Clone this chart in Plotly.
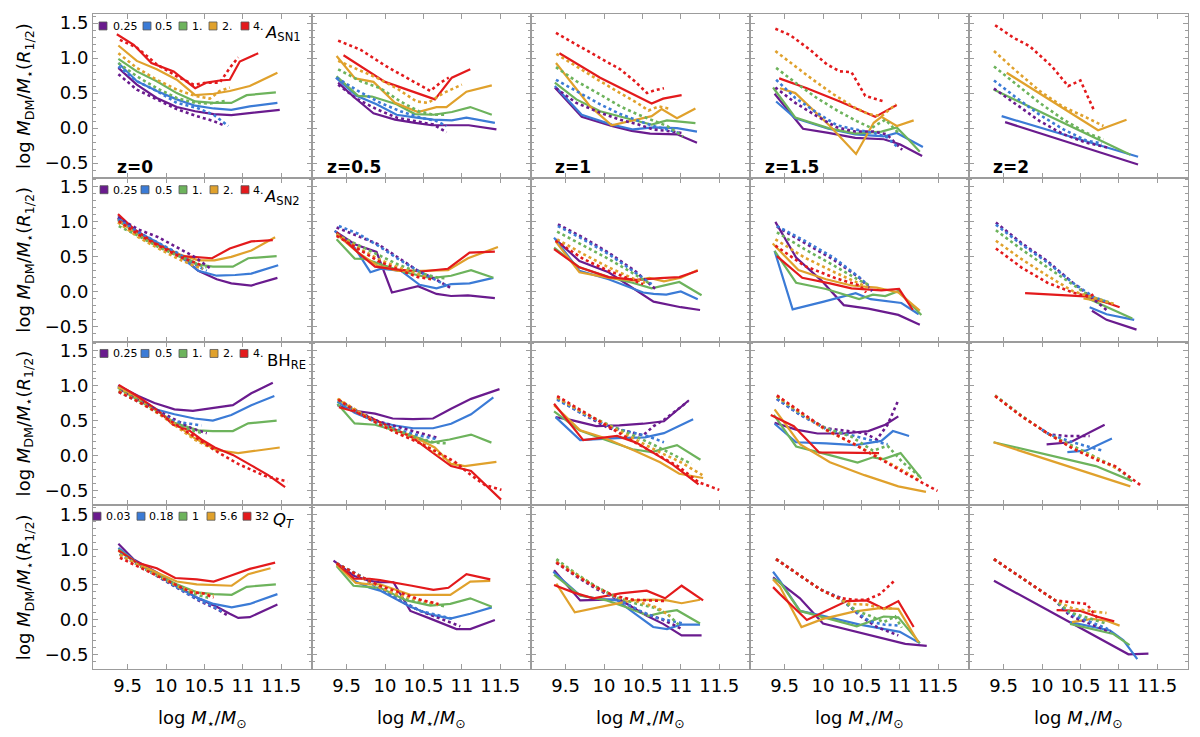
import plotly.graph_objects as go
from plotly.subplots import make_subplots

# ---------------- styling constants ----------------
COLORS = ["#6A1B8E", "#3B7BD6", "#6DB35C", "#E0A12C", "#E31A1C"]
REDSHIFTS = ["z=0", "z=0.5", "z=1", "z=1.5", "z=2"]
ROW_TAGS = ["<i>A</i><sub>SN1</sub>", "<i>A</i><sub>SN2</sub>", "BH<sub>RE</sub>", "<i>Q<sub>T</sub></i>"]
LEGEND_LABELS = [
    ["0.25", "0.5", "1.", "2.", "4."],
    ["0.25", "0.5", "1.", "2.", "4."],
    ["0.25", "0.5", "1.", "2.", "4."],
    ["0.03", "0.18", "1", "5.6", "32"],
]
X_TICKS = [9.5, 10, 10.5, 11, 11.5]

# ---------------- data: (log M*, log MDM/M*) per series, order purple, blue, green, orange, red ----
# Row 1: A_SN1
ASN1_Z0_SOLID = [
    [(9.38,0.86),(9.62,0.62),(9.88,0.43),(10.14,0.30),(10.38,0.24),(10.62,0.20),(10.85,0.185),(11.09,0.21),(11.48,0.26)],
    [(9.38,0.93),(9.62,0.67),(9.88,0.53),(10.14,0.41),(10.38,0.32),(10.62,0.28),(10.85,0.26),(11.09,0.31),(11.45,0.36)],
    [(9.38,0.99),(9.62,0.81),(9.88,0.67),(10.14,0.50),(10.38,0.38),(10.62,0.36),(10.85,0.36),(11.05,0.47),(11.43,0.51)],
    [(9.38,1.18),(9.62,0.96),(9.88,0.84),(10.14,0.69),(10.38,0.47),(10.62,0.49),(10.83,0.53),(11.09,0.60),(11.45,0.79)],
    [(9.36,1.34),(9.58,1.19),(9.81,0.93),(10.10,0.81),(10.18,0.74),(10.38,0.57),(10.53,0.65),(10.70,0.68),(10.83,0.69),(10.96,0.95),(11.20,1.07)],
]
ASN1_Z0_DOT = [
    [(9.38,0.77),(9.62,0.55),(9.88,0.41),(10.14,0.27),(10.40,0.17),(10.62,0.10),(10.75,0.04)],
    [(9.38,0.88),(9.62,0.67),(9.88,0.53),(10.14,0.36),(10.40,0.29),(10.62,0.19),(10.81,0.03)],
    [(9.38,0.93),(9.62,0.74),(9.88,0.57),(10.14,0.43),(10.38,0.36),(10.57,0.35),(10.79,0.39)],
    [(9.38,1.07),(9.62,0.86),(9.88,0.69),(10.14,0.55),(10.38,0.46),(10.57,0.42),(10.70,0.53),(10.83,0.58)],
    [(9.40,1.26),(9.62,1.15),(9.88,0.91),(10.14,0.74),(10.36,0.62),(10.53,0.65),(10.70,0.65),(10.83,0.86),(10.94,1.01)],
]
ASN1_Z05_SOLID = [
    [(9.39,0.65),(9.61,0.43),(9.85,0.21),(10.13,0.12),(10.39,0.075),(10.61,0.04),(10.87,0.04),(11.09,0.04),(11.45,-0.02)],
    [(9.36,0.72),(9.63,0.46),(9.89,0.34),(10.15,0.19),(10.41,0.15),(10.63,0.12),(10.87,0.11),(11.06,0.15),(11.43,0.075)],
    [(9.37,0.74),(9.65,0.46),(9.83,0.45),(10.15,0.34),(10.39,0.20),(10.63,0.19),(10.87,0.23),(11.11,0.30),(11.39,0.19)],
    [(9.37,1.03),(9.61,0.71),(9.85,0.66),(10.13,0.36),(10.43,0.23),(10.67,0.30),(10.80,0.30),(11.06,0.52),(11.39,0.61)],
    [(9.46,1.04),(10.0,0.66),(10.65,0.41),(10.87,0.72),(11.11,0.84)],
]
ASN1_Z05_DOT = [
    [(9.39,0.62),(9.63,0.42),(9.89,0.27),(10.15,0.15),(10.39,0.10),(10.63,0.05),(10.80,-0.06)],
    [(9.37,0.72),(9.65,0.53),(9.94,0.36),(10.20,0.24),(10.46,0.15),(10.67,0.10),(10.80,0.03)],
    [(9.39,0.84),(9.68,0.67),(9.94,0.57),(10.20,0.38),(10.44,0.24),(10.63,0.19),(10.80,0.19)],
    [(9.39,0.96),(9.63,0.84),(9.89,0.72),(10.15,0.57),(10.41,0.38),(10.56,0.36),(10.76,0.50),(11.0,0.62)],
    [(9.39,1.25),(9.68,1.12),(10.02,0.88),(10.33,0.69),(10.59,0.53),(10.72,0.65),(10.83,0.72)],
]
ASN1_Z1_SOLID = [
    [(9.36,0.58),(9.71,0.16),(10.10,0.03),(10.36,-0.04),(10.60,-0.08),(10.95,-0.09),(11.21,-0.21)],
    [(9.36,0.60),(9.71,0.19),(10.10,0.05),(10.38,-0.02),(10.64,0.01),(10.95,0.0),(11.21,-0.05)],
    [(9.36,0.65),(9.64,0.41),(9.95,0.24),(10.21,0.16),(10.47,0.09),(10.62,0.05),(10.82,0.11),(11.19,0.07)],
    [(9.375,0.93),(9.60,0.62),(9.82,0.31),(10.10,0.04),(10.34,0.10),(10.62,0.17),(10.75,0.27),(10.95,0.14),(11.19,0.28)],
    [(9.42,1.07),(9.95,0.72),(10.62,0.35),(10.77,0.42),(11.01,0.47)],
]
ASN1_Z1_DOT = [
    [(9.375,0.57),(9.64,0.36),(9.95,0.22),(10.21,0.12),(10.45,0.05),(10.64,-0.02),(10.82,-0.04),(11.01,-0.07)],
    [(9.375,0.69),(9.64,0.53),(9.95,0.34),(10.21,0.20),(10.45,0.10),(10.64,0.03),(10.82,-0.02),(11.01,-0.08)],
    [(9.375,0.87),(9.64,0.67),(9.95,0.48),(10.21,0.31),(10.45,0.19),(10.64,0.11),(10.82,0.03),(11.03,-0.12)],
    [(9.38,1.06),(9.64,0.88),(9.95,0.67),(10.21,0.50),(10.43,0.36),(10.58,0.25),(10.71,0.31),(10.84,0.28)],
    [(9.375,1.36),(9.64,1.19),(9.95,1.00),(10.21,0.84),(10.40,0.67),(10.56,0.50),(10.66,0.54),(10.78,0.57)],
]
ASN1_Z15_SOLID = [
    [(9.37,0.49),(9.74,-0.01),(10.07,-0.07),(10.42,-0.14),(10.79,-0.16),(11.0,-0.23),(11.29,-0.40)],
    [(9.39,0.38),(9.64,0.14),(10.07,-0.01),(10.42,-0.09),(10.79,-0.12),(10.96,-0.07),(11.30,-0.27)],
    [(9.35,0.58),(9.64,0.15),(10.07,0.0),(10.42,-0.08),(10.76,-0.05),(10.96,0.01),(11.11,-0.16),(11.26,-0.34)],
    [(9.44,0.57),(9.64,0.50),(10.09,0.03),(10.43,-0.37),(10.66,0.075),(10.76,0.16),(10.96,0.03),(11.18,0.11)],
    [(9.43,0.71),(9.79,0.57),(10.22,0.38),(10.68,0.16),(10.96,0.33)],
]
ASN1_Z15_DOT = [
    [(9.38,0.58),(9.64,0.36),(9.92,0.17),(10.18,0.01),(10.42,-0.05),(10.66,-0.05),(10.83,-0.09),(11.03,-0.31)],
    [(9.39,0.69),(9.64,0.43),(9.92,0.22),(10.18,0.04),(10.42,-0.02),(10.66,-0.07),(10.83,-0.13),(10.96,-0.26)],
    [(9.39,0.86),(9.64,0.65),(9.92,0.43),(10.20,0.24),(10.44,0.10),(10.63,0.0),(10.81,0.12),(11.0,-0.09)],
    [(9.38,1.10),(9.64,0.88),(9.87,0.69),(10.14,0.48),(10.40,0.30),(10.59,0.20),(10.76,0.17),(10.95,0.34)],
    [(9.38,1.42),(9.57,1.33),(9.83,1.12),(10.05,0.91),(10.22,0.81),(10.37,0.80),(10.55,0.46),(10.79,0.38)],
]
ASN1_Z2_SOLID = [
    [(9.52,0.085),(11.25,-0.52)],
    [(9.475,0.17),(11.25,-0.41)],
    [(9.37,0.55),(11.15,-0.38)],
    [(9.54,0.79),(10.73,-0.03),(11.10,0.12)],
    [],
]
ASN1_Z2_DOT = [
    [(9.375,0.565),(9.67,0.34),(9.97,0.10),(10.28,-0.09),(10.58,-0.21),(10.86,-0.28)],
    [(9.375,0.68),(9.67,0.43),(9.97,0.19),(10.28,-0.02),(10.58,-0.18),(10.78,-0.22)],
    [(9.375,0.88),(9.67,0.62),(9.97,0.36),(10.28,0.12),(10.58,-0.07),(10.80,-0.16)],
    [(9.375,1.10),(9.67,0.81),(9.97,0.53),(10.28,0.30),(10.58,0.15),(10.80,0.03)],
    [(9.39,1.47),(9.63,1.29),(9.84,1.17),(10.13,0.88),(10.34,0.60),(10.50,0.68),(10.67,0.27)],
]

# Row 2: A_SN2
ASN2_Z0_SOLID = [
    [(9.375,1.06),(9.61,0.87),(9.90,0.68),(10.16,0.54),(10.42,0.30),(10.66,0.18),(10.85,0.12),(11.11,0.09),(11.45,0.20)],
    [(9.375,1.08),(9.61,0.87),(9.90,0.70),(10.18,0.51),(10.42,0.30),(10.66,0.23),(10.90,0.24),(11.11,0.26),(11.46,0.38)],
    [(9.375,1.01),(9.61,0.85),(9.85,0.70),(10.16,0.54),(10.42,0.39),(10.61,0.36),(10.87,0.36),(11.07,0.48),(11.44,0.51)],
    [(9.37,1.04),(9.59,0.85),(9.85,0.68),(10.16,0.54),(10.42,0.45),(10.63,0.45),(10.85,0.50),(11.11,0.59),(11.42,0.78)],
    [(9.375,1.11),(9.59,0.89),(9.85,0.70),(10.20,0.51),(10.35,0.50),(10.60,0.48),(10.83,0.62),(11.11,0.72),(11.39,0.74)],
]
ASN2_Z0_DOT = [
    [(9.375,1.06),(9.64,0.89),(9.90,0.78),(10.16,0.63),(10.37,0.50),(10.57,0.34)],
    [(9.375,1.04),(9.64,0.85),(9.90,0.70),(10.16,0.55),(10.37,0.39),(10.53,0.30)],
    [(9.385,0.94),(9.64,0.80),(9.90,0.64),(10.16,0.51),(10.42,0.385),(10.53,0.35)],
    [(9.375,0.99),(9.64,0.78),(9.90,0.62),(10.16,0.47),(10.37,0.37),(10.48,0.33)],
    [(9.385,1.01),(9.64,0.82),(9.90,0.66),(10.16,0.51),(10.37,0.42),(10.48,0.37)],
]
ASN2_Z05_SOLID = [
    [(9.345,0.87),(9.605,0.68),(9.89,0.57),(10.09,-0.01),(10.43,0.08),(10.67,-0.03),(10.86,-0.06),(11.08,-0.05),(11.43,-0.09)],
    [(9.345,0.87),(9.605,0.63),(9.81,0.28),(9.95,0.33),(10.21,0.30),(10.45,0.10),(10.67,0.05),(10.86,0.11),(11.10,0.12),(11.41,0.20)],
    [(9.37,0.75),(9.605,0.475),(9.735,0.47),(10.0,0.37),(10.26,0.28),(10.60,0.195),(10.86,0.23),(11.12,0.31),(11.41,0.20)],
    [(9.37,0.82),(9.65,0.56),(9.91,0.37),(10.17,0.30),(10.47,0.30),(10.82,0.31),(11.08,0.48),(11.47,0.64)],
    [(9.37,0.85),(9.65,0.56),(9.87,0.36),(10.13,0.32),(10.47,0.29),(10.82,0.33),(11.10,0.56),(11.43,0.575)],
]
ASN2_Z05_DOT = [
    [(9.37,0.92),(9.65,0.80),(9.91,0.68),(10.17,0.49),(10.43,0.30),(10.69,0.16),(10.86,0.05)],
    [(9.40,0.94),(9.65,0.83),(9.91,0.66),(10.17,0.47),(10.43,0.30),(10.69,0.16),(10.80,0.09)],
    [(9.37,0.82),(9.65,0.67),(9.91,0.54),(10.17,0.39),(10.43,0.28),(10.69,0.20),(10.80,0.195)],
    [(9.37,0.82),(9.65,0.63),(9.91,0.47),(10.17,0.35),(10.43,0.25),(10.56,0.20)],
    [(9.37,0.80),(9.65,0.61),(9.91,0.44),(10.17,0.32),(10.43,0.21),(10.60,0.18)],
]
ASN2_Z1_SOLID = [
    [(9.37,0.75),(9.68,0.44),(10.06,0.28),(10.37,0.06),(10.645,-0.14),(11.0,-0.22),(11.25,-0.26)],
    [(9.35,0.775),(9.68,0.30),(10.06,0.18),(10.51,-0.01),(10.645,-0.03),(10.81,-0.04),(11.0,0.005),(11.22,-0.105)],
    [(9.35,0.63),(9.68,0.35),(10.06,0.21),(10.37,0.13),(10.62,0.05),(10.98,0.14),(11.27,-0.05)],
    [(9.37,0.72),(9.68,0.28),(10.06,0.20),(10.40,0.16),(10.59,0.20),(10.78,0.15),(11.0,0.20),(11.22,0.31)],
    [(9.35,0.61),(9.68,0.35),(10.06,0.21),(10.42,0.17),(10.73,0.195),(10.98,0.21),(11.22,0.30)],
]
ASN2_Z1_DOT = [
    [(9.40,0.965),(9.73,0.775),(10.06,0.56),(10.40,0.30),(10.67,0.04)],
    [(9.40,0.94),(9.73,0.75),(10.06,0.54),(10.40,0.28),(10.62,0.11)],
    [(9.39,0.86),(9.73,0.66),(10.06,0.47),(10.40,0.25),(10.59,0.12)],
    [(9.39,0.75),(9.73,0.54),(10.06,0.35),(10.40,0.18),(10.535,0.13)],
    [(9.37,0.73),(9.73,0.47),(10.06,0.30),(10.40,0.16),(10.51,0.11)],
]
ASN2_Z15_SOLID = [
    [(9.38,1.0),(9.65,0.49),(9.98,0.16),(10.27,-0.19),(10.59,-0.24),(10.98,-0.33),(11.26,-0.47)],
    [(9.37,0.585),(9.605,-0.25),(10.01,-0.14),(10.425,-0.02),(10.62,-0.105),(10.84,-0.14),(11.02,-0.16),(11.245,-0.32)],
    [(9.37,0.585),(9.65,0.13),(10.04,0.04),(10.47,-0.105),(10.65,-0.04),(10.81,-0.06),(10.98,0.01),(11.28,-0.33)],
    [(9.345,0.69),(9.68,0.31),(10.04,0.18),(10.37,0.09),(10.70,0.06),(10.98,-0.01),(11.26,-0.27)],
    [(9.40,0.51),(9.73,0.20),(10.09,0.12),(10.37,0.05),(10.76,0.02),(10.99,0.04),(11.17,-0.26)],
]
ASN2_Z15_DOT = [
    [(9.40,0.93),(9.76,0.70),(10.15,0.45),(10.48,0.195),(10.64,0.01)],
    [(9.40,0.94),(9.76,0.73),(10.15,0.48),(10.48,0.20),(10.59,0.09)],
    [(9.40,0.85),(9.76,0.61),(10.15,0.37),(10.48,0.16),(10.62,0.09)],
    [(9.38,0.75),(9.76,0.49),(10.15,0.28),(10.48,0.11),(10.59,0.06)],
    [(9.38,0.66),(9.76,0.37),(10.15,0.20),(10.48,0.09),(10.56,-0.01)],
]
ASN2_Z2_SOLID = [
    [(10.65,-0.27),(10.84,-0.40),(11.23,-0.54)],
    [(10.62,-0.22),(10.84,-0.32),(11.20,-0.40)],
    [(10.57,-0.08),(11.175,-0.38)],
    [(10.54,-0.095),(10.93,-0.17)],
    [(9.78,-0.02),(10.62,-0.07),(11.01,-0.22)],
]
ASN2_Z2_DOT = [
    [(9.40,0.99),(9.73,0.70),(10.07,0.44),(10.40,0.13),(10.62,-0.06),(10.84,-0.26)],
    [(9.40,0.96),(9.73,0.68),(10.07,0.42),(10.40,0.13),(10.68,-0.08),(10.87,-0.15)],
    [(9.40,0.88),(9.73,0.61),(10.07,0.35),(10.40,0.11),(10.62,-0.06),(10.87,-0.15)],
    [(9.40,0.73),(9.73,0.47),(10.07,0.23),(10.40,0.01),(10.73,-0.105),(10.93,-0.17)],
    [(9.40,0.62),(9.73,0.35),(10.07,0.13),(10.40,-0.01),(10.62,-0.07),(10.70,-0.01)],
]

# Row 3: BH_RE
BHRE_Z0_SOLID = [
    [(9.375,1.0),(9.64,0.85),(9.85,0.75),(10.11,0.66),(10.35,0.64),(10.61,0.68),(10.87,0.72),(11.11,0.89),(11.39,1.04)],
    [(9.375,0.98),(9.64,0.81),(9.90,0.65),(10.11,0.59),(10.37,0.53),(10.61,0.50),(10.85,0.58),(11.11,0.72),(11.41,0.85)],
    [(9.375,0.97),(9.64,0.79),(9.90,0.63),(10.11,0.47),(10.42,0.36),(10.61,0.35),(10.87,0.35),(11.07,0.46),(11.44,0.50)],
    [(9.375,0.98),(9.64,0.81),(9.90,0.63),(10.135,0.44),(10.37,0.25),(10.655,0.08),(10.94,0.035),(11.48,0.115)],
    [(9.385,1.01),(9.64,0.84),(9.90,0.64),(10.09,0.44),(10.29,0.37),(10.46,0.23),(10.635,0.115),(10.87,0.01),(11.11,-0.14),(11.33,-0.28),(11.55,-0.45)],
]
BHRE_Z0_DOT = [
    [(9.40,0.93),(9.64,0.79),(9.90,0.63),(10.11,0.51),(10.33,0.39),(10.53,0.32)],
    [(9.385,0.91),(9.64,0.77),(9.90,0.61),(10.11,0.49),(10.31,0.455),(10.46,0.43)],
    [(9.385,0.93),(9.64,0.79),(9.90,0.61),(10.11,0.455),(10.37,0.35),(10.48,0.32)],
    [(9.385,0.92),(9.64,0.77),(9.90,0.60),(10.11,0.44),(10.37,0.23),(10.655,0.07)],
    [(9.385,0.91),(9.64,0.77),(9.90,0.61),(10.16,0.42),(10.42,0.23),(10.68,0.045),(10.94,-0.12),(11.285,-0.29),(11.58,-0.37)],
]
BHRE_Z05_SOLID = [
    [(9.38,0.72),(9.605,0.64),(9.87,0.60),(10.10,0.53),(10.365,0.52),(10.625,0.53),(10.86,0.67),(11.12,0.81),(11.49,0.95)],
    [(9.38,0.77),(9.605,0.61),(9.87,0.49),(10.13,0.43),(10.365,0.39),(10.625,0.39),(10.86,0.455),(11.12,0.59),(11.41,0.83)],
    [(9.38,0.74),(9.605,0.46),(9.87,0.44),(10.15,0.35),(10.365,0.28),(10.60,0.185),(10.84,0.23),(11.12,0.30),(11.385,0.185)],
    [(9.38,0.81),(9.605,0.65),(9.87,0.51),(10.13,0.37),(10.34,0.29),(10.647,0.115),(10.86,-0.12),(11.04,-0.15),(11.45,-0.09)],
    [(9.40,0.69),(9.605,0.63),(9.87,0.51),(10.13,0.37),(10.365,0.25),(10.647,0.02),(10.86,-0.15),(11.12,-0.22),(11.51,-0.63)],
]
BHRE_Z05_DOT = [
    [(9.40,0.79),(9.65,0.63),(9.91,0.49),(10.17,0.41),(10.43,0.32),(10.69,0.25)],
    [(9.39,0.77),(9.65,0.61),(9.91,0.455),(10.17,0.37),(10.43,0.29),(10.69,0.23)],
    [(9.39,0.79),(9.65,0.63),(9.91,0.46),(10.17,0.35),(10.43,0.25),(10.647,0.185),(10.80,0.175)],
    [(9.39,0.81),(9.65,0.63),(9.91,0.455),(10.17,0.32),(10.47,0.185),(10.73,-0.01),(10.91,-0.12),(11.02,-0.15)],
    [(9.39,0.80),(9.65,0.61),(9.91,0.455),(10.17,0.315),(10.43,0.19),(10.69,0.045),(10.91,-0.09),(11.12,-0.28),(11.30,-0.42),(11.515,-0.49)],
]
BHRE_Z1_SOLID = [
    [(9.37,0.55),(9.565,0.51),(9.90,0.42),(10.20,0.43),(10.51,0.455),(10.78,0.49),(11.105,0.79)],
    [(9.37,0.55),(9.69,0.22),(10.17,0.25),(10.535,0.26),(10.78,0.32),(11.16,0.52)],
    [(9.35,0.63),(9.68,0.36),(9.95,0.25),(10.37,0.09),(10.62,0.05),(10.95,0.15),(11.255,-0.06)],
    [(9.35,0.72),(9.69,0.36),(10.01,0.25),(10.40,0.07),(10.73,-0.095),(10.98,-0.26),(11.29,-0.32)],
    [(9.35,0.74),(9.73,0.22),(10.17,0.28),(10.42,0.185),(10.67,0.02),(10.895,-0.13),(11.23,-0.41)],
]
BHRE_Z1_DOT = [
    [(9.39,0.81),(9.73,0.59),(10.06,0.39),(10.285,0.35),(10.51,0.29),(10.645,0.42),(10.78,0.51),(10.95,0.66),(11.09,0.77)],
    [(9.39,0.80),(9.73,0.59),(10.06,0.42),(10.285,0.35),(10.56,0.28),(10.78,0.19)],
    [(9.39,0.83),(9.73,0.61),(10.06,0.44),(10.40,0.28),(10.67,0.14),(10.895,0.02),(11.14,-0.12)],
    [(9.39,0.83),(9.73,0.61),(10.06,0.43),(10.40,0.23),(10.73,0.045),(11.0,-0.095),(11.28,-0.28)],
    [(9.39,0.85),(9.73,0.63),(10.06,0.42),(10.40,0.19),(10.73,-0.01),(10.98,-0.165),(11.23,-0.38),(11.50,-0.49)],
]
BHRE_Z15_SOLID = [
    [(9.37,0.47),(9.65,0.37),(9.93,0.315),(10.26,0.315),(10.59,0.35),(10.81,0.44),(10.98,0.56)],
    [(9.37,0.455),(9.65,0.19),(10.04,0.175),(10.425,0.15),(10.76,0.21),(10.91,0.35),(11.12,0.28)],
    [(9.36,0.58),(9.65,0.13),(10.04,0.02),(10.45,-0.10),(10.65,-0.025),(10.785,-0.05),(11.01,0.035),(11.28,-0.33)],
    [(9.37,0.66),(9.705,0.16),(10.09,-0.095),(10.54,-0.28),(10.98,-0.44),(11.34,-0.52)],
    [(9.32,0.58),(9.62,0.42),(9.95,0.045),(10.31,0.036),(10.73,0.036)],
]
BHRE_Z15_DOT = [
    [(9.40,0.81),(9.705,0.58),(10.04,0.39),(10.31,0.35),(10.54,0.32),(10.70,0.23),(10.84,0.44),(10.98,0.79)],
    [(9.40,0.81),(9.705,0.58),(10.04,0.38),(10.37,0.29),(10.59,0.23),(10.84,0.16)],
    [(9.40,0.84),(9.705,0.60),(10.04,0.39),(10.37,0.27),(10.65,0.07),(10.84,0.14),(11.035,-0.095),(11.26,-0.30)],
    [(9.40,0.85),(9.705,0.61),(10.04,0.36),(10.37,0.185),(10.70,-0.01),(11.035,-0.21),(11.28,-0.37)],
    [(9.40,0.86),(9.705,0.63),(10.04,0.37),(10.37,0.185),(10.70,-0.025),(11.035,-0.235),(11.26,-0.37),(11.49,-0.505)],
]
BHRE_Z2_SOLID = [
    [(10.06,0.16),(10.37,0.19),(10.815,0.44)],
    [(10.33,0.05),(10.57,0.07),(10.91,0.245)],
    [(9.37,0.19),(10.70,-0.15),(11.175,-0.365)],
    [(9.37,0.19),(11.15,-0.44)],
    [],
]
BHRE_Z2_DOT = [
    [(10.0,0.37),(10.1,0.30),(10.32,0.28),(10.62,0.28)],
    [(10.0,0.37),(10.1,0.30),(10.40,0.19),(10.79,0.07)],
    [(9.39,0.86),(9.735,0.57),(10.07,0.315),(10.40,0.14),(10.73,-0.04),(10.95,-0.165),(11.175,-0.35)],
    [(9.39,0.85),(9.735,0.56),(10.07,0.32),(10.40,0.11),(10.73,-0.05),(10.98,-0.19)],
    [(9.39,0.85),(9.735,0.56),(10.07,0.32),(10.40,0.10),(10.73,-0.07),(10.95,-0.15),(11.29,-0.43)],
]

# Row 4: Q_T
QT_Z0_SOLID = [
    [(9.38,1.08),(9.575,0.86),(9.88,0.67),(10.14,0.48),(10.40,0.31),(10.66,0.18),(10.83,0.08),(10.94,0.02),(11.09,0.03),(11.45,0.21)],
    [(9.38,1.02),(9.62,0.81),(9.88,0.645),(10.14,0.465),(10.40,0.31),(10.62,0.22),(10.855,0.17),(11.09,0.22),(11.45,0.36)],
    [(9.38,1.0),(9.62,0.81),(9.88,0.64),(10.14,0.50),(10.40,0.385),(10.62,0.36),(10.855,0.35),(11.05,0.465),(11.43,0.50)],
    [(9.38,0.98),(9.62,0.80),(9.88,0.67),(10.14,0.54),(10.40,0.50),(10.62,0.49),(10.855,0.48),(11.07,0.645),(11.36,0.73)],
    [(9.38,0.985),(9.62,0.81),(9.88,0.73),(10.12,0.59),(10.40,0.57),(10.62,0.54),(10.83,0.62),(11.09,0.72),(11.42,0.81)],
]
QT_Z0_DOT = [
    [(9.40,0.93),(9.66,0.76),(9.92,0.59),(10.18,0.42),(10.44,0.26),(10.66,0.15),(10.81,0.05)],
    [(9.40,0.94),(9.66,0.76),(9.92,0.60),(10.18,0.43),(10.40,0.29),(10.62,0.18),(10.75,0.10)],
    [(9.40,0.93),(9.66,0.76),(9.92,0.61),(10.18,0.45),(10.40,0.35),(10.55,0.31)],
    [(9.40,0.92),(9.66,0.76),(9.92,0.61),(10.18,0.46),(10.40,0.385),(10.62,0.34)],
    [(9.40,0.88),(9.66,0.74),(9.92,0.60),(10.14,0.48),(10.33,0.385),(10.49,0.37),(10.62,0.31)],
]
QT_Z05_SOLID = [
    [(9.33,0.84),(9.60,0.62),(9.80,0.55),(9.935,0.53),(10.11,0.53),(10.33,0.12),(10.59,0.01),(10.93,-0.14),(11.11,-0.14),(11.43,-0.01)],
    [(9.37,0.80),(9.60,0.55),(9.80,0.45),(9.935,0.41),(10.33,0.18),(10.59,0.07),(10.85,0.01),(11.11,0.08),(11.39,0.17)],
    [(9.37,0.76),(9.59,0.48),(9.80,0.46),(9.935,0.45),(10.28,0.27),(10.59,0.195),(10.85,0.22),(11.11,0.30),(11.39,0.18)],
    [(9.37,0.78),(9.62,0.52),(9.80,0.50),(9.935,0.50),(10.33,0.35),(10.59,0.35),(10.85,0.35),(11.11,0.54),(11.37,0.55)],
    [(9.37,0.80),(9.60,0.58),(9.80,0.58),(9.935,0.56),(10.35,0.48),(10.63,0.42),(10.825,0.45),(11.06,0.645),(11.37,0.57)],
]
QT_Z05_DOT = [
    [(9.37,0.80),(9.66,0.63),(9.935,0.45),(10.195,0.27),(10.46,0.12),(10.72,0.01),(10.98,-0.10)],
    [(9.37,0.80),(9.66,0.63),(9.935,0.43),(10.195,0.27),(10.46,0.12),(10.72,0.05),(10.87,0.01)],
    [(9.37,0.80),(9.66,0.63),(9.935,0.46),(10.195,0.31),(10.46,0.24),(10.63,0.22),(10.80,0.18)],
    [(9.37,0.80),(9.66,0.62),(9.935,0.45),(10.195,0.34),(10.46,0.27),(10.695,0.21)],
    [(9.37,0.80),(9.66,0.62),(9.935,0.48),(10.195,0.385),(10.46,0.28),(10.695,0.22)],
]
QT_Z1_SOLID = [
    [(9.35,0.70),(9.69,0.27),(10.035,0.28),(10.21,0.28),(10.556,0.05),(10.77,-0.065),(11.01,-0.23),(11.27,-0.23)],
    [(9.34,0.68),(9.69,0.34),(9.95,0.29),(10.17,0.27),(10.38,0.10),(10.64,-0.11),(10.82,-0.14),(11.01,-0.075),(11.25,-0.075)],
    [(9.35,0.64),(9.69,0.34),(10.035,0.27),(10.30,0.17),(10.58,0.05),(10.77,0.10),(10.95,0.13),(11.25,-0.06)],
    [(9.38,0.51),(9.62,0.10),(10.035,0.195),(10.38,0.27),(10.64,0.28),(10.82,0.27),(11.01,0.23),(11.25,0.28)],
    [(9.35,0.49),(9.60,0.385),(9.86,0.30),(10.21,0.37),(10.556,0.41),(10.795,0.30),(11.01,0.48),(11.29,0.27)],
]
QT_Z1_DOT = [
    [(9.38,0.81),(9.645,0.61),(9.905,0.43),(10.21,0.27),(10.51,0.09),(10.73,0.01),(10.90,-0.075),(11.01,-0.14)],
    [(9.38,0.825),(9.645,0.62),(9.905,0.45),(10.21,0.27),(10.47,0.12),(10.69,0.02),(10.86,-0.02),(11.03,-0.06)],
    [(9.38,0.86),(9.645,0.645),(9.905,0.465),(10.17,0.31),(10.43,0.22),(10.64,0.17),(10.82,0.08),(10.97,-0.075)],
    [(9.38,0.825),(9.645,0.635),(9.905,0.45),(10.17,0.31),(10.38,0.27),(10.69,0.17),(10.86,0.05)],
    [(9.38,0.81),(9.645,0.62),(9.905,0.455),(10.12,0.34),(10.38,0.28),(10.64,0.27),(10.82,0.26)],
]
QT_Z15_SOLID = [
    [(9.35,0.60),(9.70,0.30),(10.0,-0.06),(10.53,-0.20),(11.07,-0.35),(11.35,-0.38)],
    [(9.35,0.68),(9.44,0.55),(9.70,0.12),(10.0,0.05),(10.48,-0.075),(11.0,-0.18),(11.26,-0.34)],
    [(9.35,0.58),(9.44,0.53),(9.70,0.12),(9.96,0.04),(10.44,-0.10),(10.79,0.04),(10.98,0.03),(11.26,-0.34)],
    [(9.35,0.57),(9.44,0.465),(9.72,-0.11),(10.0,0.006),(10.40,0.11),(10.74,0.16),(10.98,0.15),(11.24,-0.325)],
    [(9.35,0.46),(9.44,0.36),(9.79,-0.01),(10.31,0.26),(10.57,0.27),(10.79,0.15),(10.98,0.26),(11.18,-0.11)],
]
QT_Z15_DOT = [
    [(9.39,0.86),(9.70,0.62),(9.96,0.43),(10.22,0.31),(10.48,0.05),(10.70,-0.11),(10.87,-0.18),(10.98,-0.23)],
    [(9.39,0.86),(9.70,0.62),(9.96,0.43),(10.22,0.30),(10.44,0.10),(10.61,-0.03),(10.79,-0.075),(11.0,-0.09)],
    [(9.39,0.86),(9.70,0.62),(9.96,0.43),(10.22,0.29),(10.44,0.12),(10.61,0.05),(10.79,-0.04),(10.94,0.04),(11.025,-0.12)],
    [(9.39,0.86),(9.70,0.62),(9.96,0.43),(10.18,0.31),(10.35,0.22),(10.57,0.21),(10.79,0.15),(10.92,0.16)],
    [(9.39,0.86),(9.70,0.62),(9.96,0.43),(10.18,0.31),(10.40,0.28),(10.57,0.28),(10.74,0.36),(10.92,0.54)],
]
QT_Z2_SOLID = [
    [(9.375,0.55),(11.125,-0.50),(11.385,-0.49)],
    [(10.365,-0.04),(10.886,-0.16),(11.06,-0.30),(11.24,-0.57)],
    [(10.365,-0.065),(10.67,-0.14),(10.93,-0.21),(11.14,-0.37)],
    [(10.39,-0.04),(10.65,0.006),(10.84,-0.02),(11.01,-0.09)],
    [(10.19,0.13),(10.50,0.12),(10.71,0.04),(10.94,-0.03)],
]
QT_Z2_DOT = [
    [(9.375,0.86),(9.63,0.67),(9.89,0.48),(10.17,0.27),(10.365,0.05),(10.625,-0.065),(10.89,-0.18)],
    [(9.375,0.86),(9.63,0.67),(9.89,0.48),(10.17,0.27),(10.365,0.08),(10.625,-0.04),(10.86,-0.14)],
    [(9.375,0.86),(9.63,0.67),(9.89,0.48),(10.17,0.27),(10.365,0.10),(10.625,0.006),(10.82,-0.056)],
    [(9.375,0.86),(9.63,0.67),(9.89,0.48),(10.17,0.27),(10.41,0.15),(10.67,0.12),(10.84,0.09)],
    [(9.375,0.86),(9.63,0.67),(9.89,0.48),(10.17,0.27),(10.41,0.24),(10.58,0.22),(10.73,0.006)],
]

PANELS = [
    [(ASN1_Z0_SOLID, ASN1_Z0_DOT), (ASN1_Z05_SOLID, ASN1_Z05_DOT), (ASN1_Z1_SOLID, ASN1_Z1_DOT),
     (ASN1_Z15_SOLID, ASN1_Z15_DOT), (ASN1_Z2_SOLID, ASN1_Z2_DOT)],
    [(ASN2_Z0_SOLID, ASN2_Z0_DOT), (ASN2_Z05_SOLID, ASN2_Z05_DOT), (ASN2_Z1_SOLID, ASN2_Z1_DOT),
     (ASN2_Z15_SOLID, ASN2_Z15_DOT), (ASN2_Z2_SOLID, ASN2_Z2_DOT)],
    [(BHRE_Z0_SOLID, BHRE_Z0_DOT), (BHRE_Z05_SOLID, BHRE_Z05_DOT), (BHRE_Z1_SOLID, BHRE_Z1_DOT),
     (BHRE_Z15_SOLID, BHRE_Z15_DOT), (BHRE_Z2_SOLID, BHRE_Z2_DOT)],
    [(QT_Z0_SOLID, QT_Z0_DOT), (QT_Z05_SOLID, QT_Z05_DOT), (QT_Z1_SOLID, QT_Z1_DOT),
     (QT_Z15_SOLID, QT_Z15_DOT), (QT_Z2_SOLID, QT_Z2_DOT)],
]

# ---------------- figure geometry (page pixels; the page body adds an 8 px margin) ----------------
BODY = 8
PL, PT, PR, PB = 93, 12, 1188, 669          # plot block edges on the page
W, H = 1200 - BODY, 737 - BODY
ML, MT = PL - BODY, PT - BODY
MR, MB = W - (PR - BODY), H - (PB - BODY)
PW = (PR - PL) / 5.0
PH = (PB - PT) / 4.0
FONT = "DejaVu Sans"
FRAME = "#9c9c9c"

fig = make_subplots(rows=4, cols=5, horizontal_spacing=0, vertical_spacing=0)

for r in range(4):
    for c in range(5):
        solid, dot = PANELS[r][c]
        for k in range(5):
            s = solid[k]
            if s:
                fig.add_trace(go.Scatter(x=[p[0] for p in s], y=[p[1] for p in s], mode="lines",
                                         line=dict(color=COLORS[k], width=2.2), showlegend=False,
                                         hoverinfo="skip"), row=r + 1, col=c + 1)
        for k in range(5):
            s = dot[k]
            if s:
                fig.add_trace(go.Scatter(x=[p[0] for p in s], y=[p[1] for p in s], mode="lines",
                                         line=dict(color=COLORS[k], width=2.6, dash="dot"), showlegend=False,
                                         hoverinfo="skip"), row=r + 1, col=c + 1)

for r in range(4):
    for c in range(5):
        fig.update_xaxes(row=r + 1, col=c + 1, range=[9.05, 11.9], tickmode="array", tickvals=X_TICKS,
                         ticktext=["9.5", "10", "10.5", "11", "11.5"], ticks="inside", ticklen=5,
                         tickcolor=FRAME, showline=True, linecolor=FRAME, linewidth=1, mirror="allticks",
                         showgrid=False, zeroline=False, showticklabels=(r == 3),
                         tickfont=dict(family=FONT, size=18, color="black"))
        fig.update_yaxes(row=r + 1, col=c + 1, range=[-0.71, 1.63], tickmode="linear", tick0=0, dtick=0.5,
                         tickformat=".1f", ticks="inside", ticklen=5, tickcolor=FRAME, showline=True,
                         linecolor=FRAME, linewidth=1, mirror="allticks", showgrid=False, zeroline=False,
                         showticklabels=(c == 0), tickfont=dict(family=FONT, size=18, color="black"),
                         minor=dict(ticks="inside", ticklen=3, tickcolor=FRAME, dtick=0.1, tick0=0,
                                    showgrid=False))

annotations = []
shapes = []


def px_to_paper_x(px):
    return (px - PL) / (PR - PL)


def py_to_paper_y(py):
    return (PB - py) / (PB - PT)


YTITLE = "log <i>M</i><sub>DM</sub>/<i>M</i><sub>⋆</sub>(<i>R</i><sub>1/2</sub>)"
XTITLE = "log <i>M</i><sub>⋆</sub>/<i>M</i><sub>⊙</sub>"

for r in range(4):
    cy = PT + PH * (r + 0.5)
    annotations.append(dict(text=YTITLE, xref="paper", yref="paper", x=px_to_paper_x(25), y=py_to_paper_y(cy),
                            textangle=-90, showarrow=False, xanchor="center", yanchor="middle",
                            font=dict(family=FONT, size=18, color="black")))
for c in range(5):
    cx = PL + PW * (c + 0.5)
    annotations.append(dict(text=XTITLE, xref="paper", yref="paper", x=px_to_paper_x(cx), y=py_to_paper_y(719),
                            showarrow=False, xanchor="center", yanchor="middle",
                            font=dict(family=FONT, size=18, color="black")))
    annotations.append(dict(text="<b>%s</b>" % REDSHIFTS[c], xref="paper", yref="paper",
                            x=px_to_paper_x(PL + PW * c + 41.5), y=py_to_paper_y(PT + PH - 11),
                            showarrow=False, xanchor="center", yanchor="middle",
                            font=dict(family=FONT, size=17, color="black")))

SQ_X = [[99, 143, 179, 209, 241], [100, 141, 179, 210, 241], [100, 141, 179, 210, 240], [93, 137, 179, 207, 243]]
LB_X = [[111, 153, 190, 220, 251], [111, 153, 190, 221, 251], [111, 153, 190, 221, 251], [104, 147, 190, 218, 253]]
SQ_TOP = [8, 8, 8, 7]
TAG_RIGHT = [303, 302, 308, 296]
TAG_DY = [20, 20, 20, 15]

for r in range(4):
    top = PT + PH * r
    for k in range(5):
        x0 = SQ_X[r][k]
        y0 = top + SQ_TOP[r]
        shapes.append(dict(type="rect", xref="paper", yref="paper",
                           x0=px_to_paper_x(x0), x1=px_to_paper_x(x0 + 8),
                           y0=py_to_paper_y(y0 + 8), y1=py_to_paper_y(y0),
                           fillcolor=COLORS[k], line=dict(color="#555555", width=0.8)))
        annotations.append(dict(text=LEGEND_LABELS[r][k], xref="paper", yref="paper",
                                x=px_to_paper_x(LB_X[r][k]), y=py_to_paper_y(y0 + 4.5),
                                showarrow=False, xanchor="left", yanchor="middle",
                                font=dict(family=FONT, size=11, color="black")))
    annotations.append(dict(text=ROW_TAGS[r], xref="paper", yref="paper",
                            x=px_to_paper_x(TAG_RIGHT[r]), y=py_to_paper_y(top + TAG_DY[r]),
                            showarrow=False, xanchor="right", yanchor="middle",
                            font=dict(family=FONT, size=16.5, color="black")))

fig.update_layout(width=W, height=H, margin=dict(l=ML, r=MR, t=MT, b=MB, pad=0),
                  paper_bgcolor="white", plot_bgcolor="white", annotations=annotations, shapes=shapes,
                  font=dict(family=FONT, size=18, color="black"), showlegend=False)

fig.write_html("out.html")
